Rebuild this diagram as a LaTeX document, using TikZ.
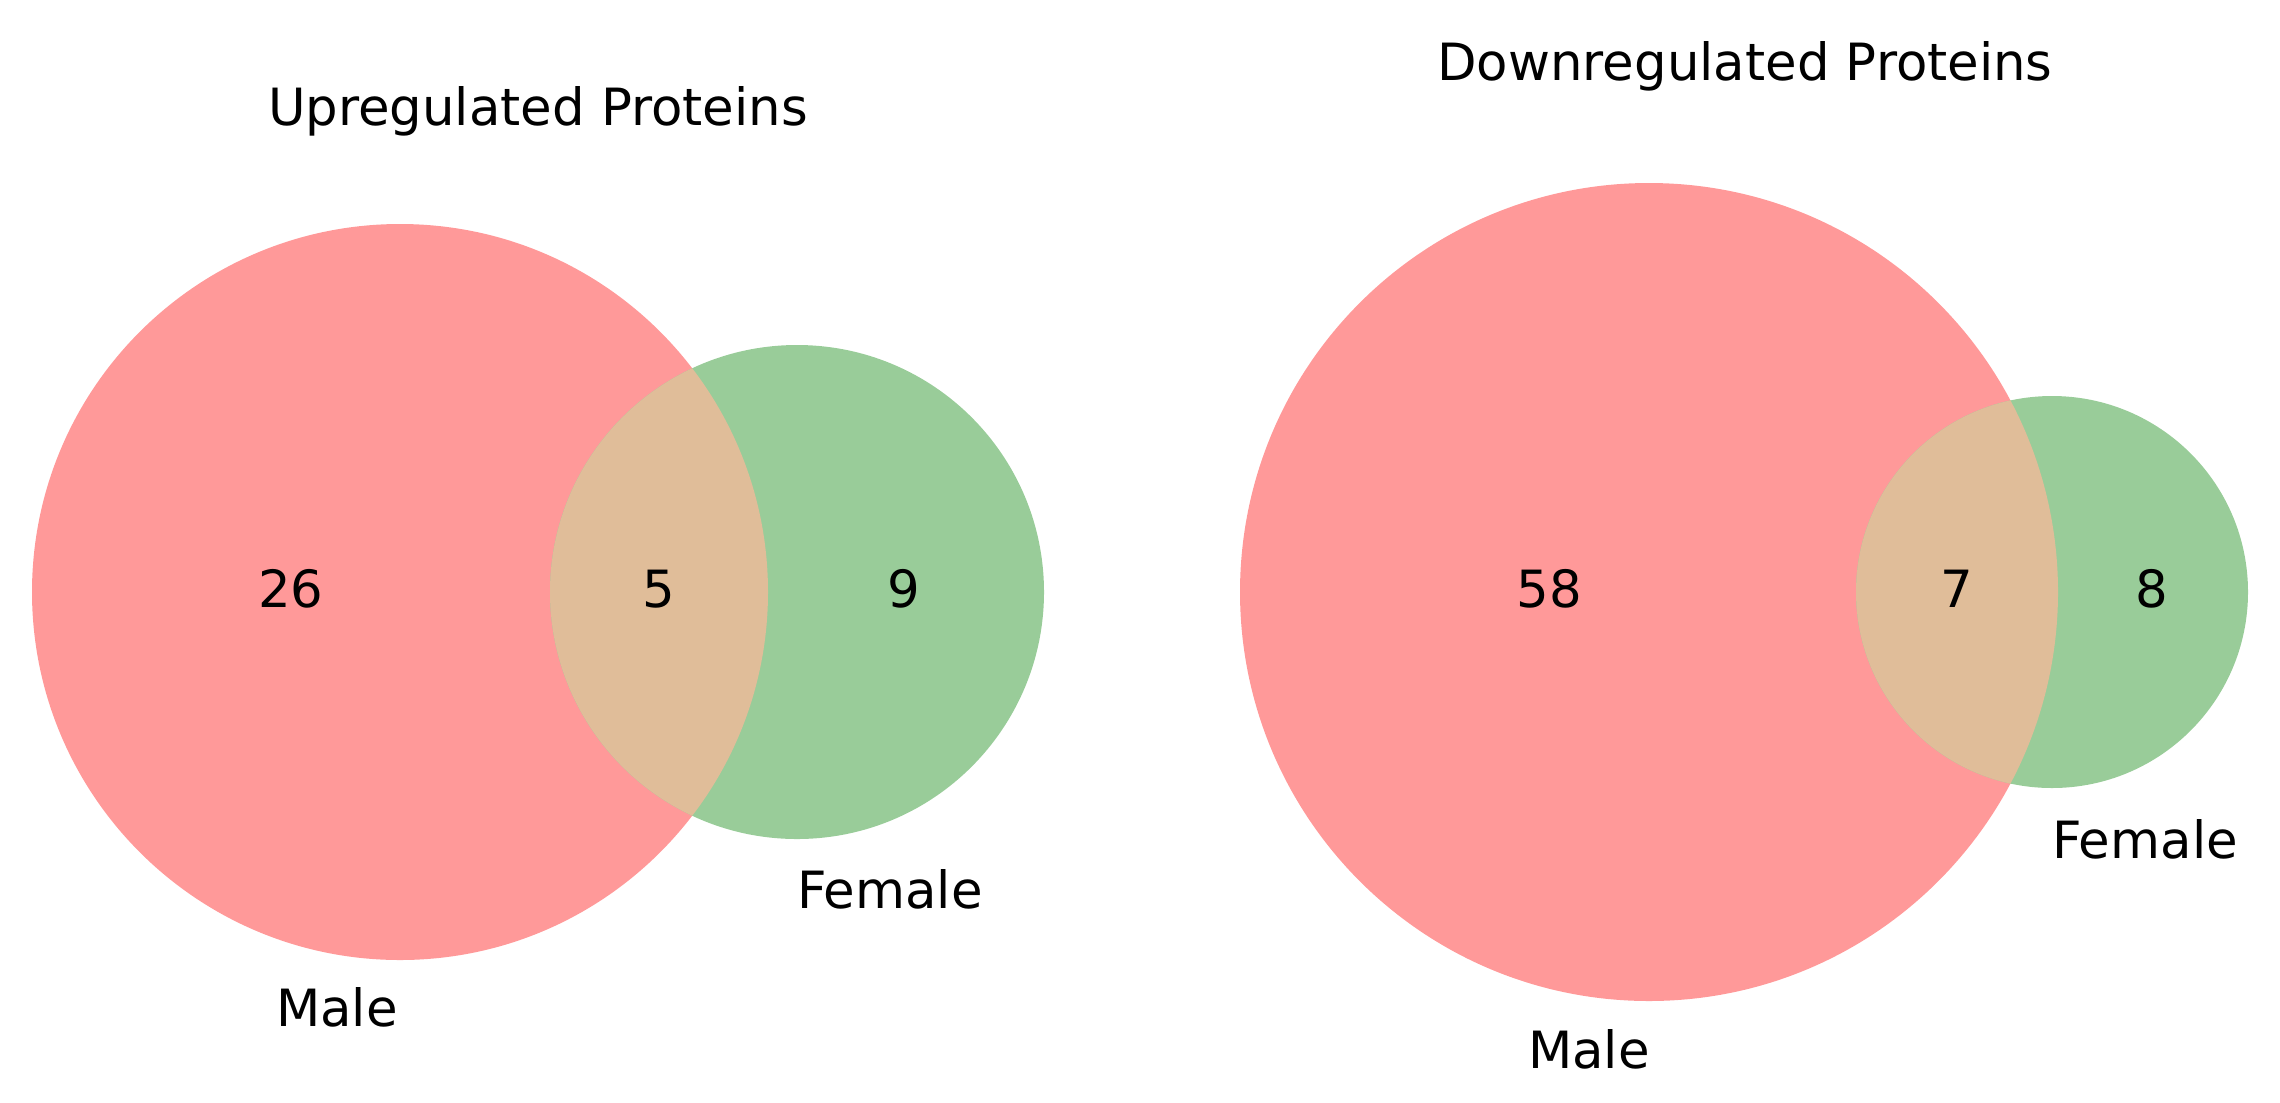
\documentclass[tikz,border=0pt]{standalone}
\usepackage{fontspec}
\setmainfont{DejaVu Sans}
\definecolor{malecol}{HTML}{FF9999}
\definecolor{femcol}{HTML}{99CC99}
\definecolor{bothcol}{HTML}{E0BD99}
\tikzset{
  lbl/.style={font=\fontsize{15.4}{18}\selectfont, inner sep=0pt, anchor=base},
}
\begin{document}
\begin{tikzpicture}[x=0.3pt,y=-0.3pt]
\useasboundingbox (0,0) rectangle (2280,1102);
% left venn
\fill[malecol] (400,592) circle[radius=368];
\fill[femcol] (797,592) circle[radius=247];
\begin{scope}
\clip (400,592) circle[radius=368];
\fill[bothcol] (797,592) circle[radius=247];
\end{scope}
% right venn
\fill[malecol] (1649,592) circle[radius=409];
\fill[femcol] (2052,592) circle[radius=196];
\begin{scope}
\clip (1649,592) circle[radius=409];
\fill[bothcol] (2052,592) circle[radius=196];
\end{scope}
% titles
\node[lbl] (t1) at (538,125) {Upregulated Proteins};
\node[lbl] (t2) at (1745,80) {Downregulated Proteins};
% numbers
\node[lbl] (n1) at (291,607) {26};
\node[lbl] (n2) at (659,607) {5};
\node[lbl] (n3) at (904,607) {9};
\node[lbl] (n4) at (1549,607) {58};
\node[lbl] (n5) at (1957,607) {7};
\node[lbl] (n6) at (2152,607) {8};
% set labels
\node[lbl] (m1) at (337,1026) {Male};
\node[lbl] (f1) at (890,908) {Female};
\node[lbl] (m2) at (1589,1068) {Male};
\node[lbl] (f2) at (2145,858) {Female};
\end{tikzpicture}
\end{document}
